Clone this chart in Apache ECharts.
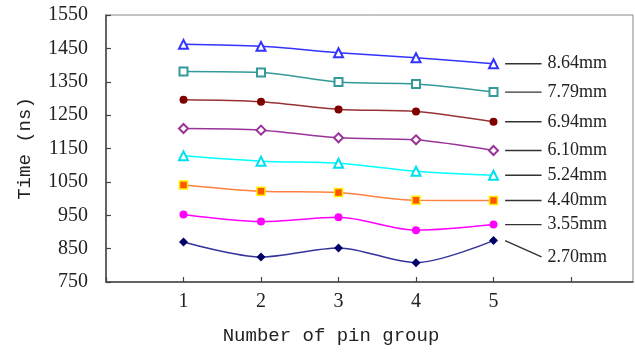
<!DOCTYPE html>
<html>
<head>
<meta charset="utf-8">
<script src="https://cdn.jsdelivr.net/npm/echarts@6/dist/echarts.min.js"></script>
<style>html,body{margin:0;padding:0;background:#fff;}#c{width:635px;height:352px;}</style>
</head>
<body>
<div id="c"></div>
<script>
const groups = [1, 2, 3, 4, 5];
const xTickLabels = ['1', '2', '3', '4', '5'];
const seriesNames = ['8.64mm', '7.79mm', '6.94mm', '6.10mm', '5.24mm', '4.40mm', '3.55mm', '2.70mm'];
const s864 = [1462, 1456, 1437, 1422, 1404];
const s779 = [1381, 1378, 1349, 1343, 1319];
const s694 = [1296, 1290, 1267, 1261, 1230];
const s610 = [1210, 1205, 1182, 1176, 1144];
const s524 = [1128, 1112, 1106, 1082, 1070];
const s440 = [1041, 1022, 1018, 995, 994];
const s355 = [952, 931, 944, 905, 922];
const s270 = [870, 825, 852, 808, 874];
// label anchor value for each series label (where leader line ends)
const labelValues = [1404, 1319, 1230, 1144, 1070, 994, 922, 825];

const allValues = [s864, s779, s694, s610, s524, s440, s355, s270];
const styles = [
  {line: '#3333ff', symbol: 'emptyTriangle', color: '#3333ff', border: null, size: 9},
  {line: '#339999', symbol: 'emptyRect', color: '#339999', border: null, size: 8},
  {line: '#993333', symbol: 'circle', color: '#800000', border: null, size: 8},
  {line: '#993399', symbol: 'emptyDiamond', color: '#993399', border: null, size: 9},
  {line: '#00ffff', symbol: 'emptyTriangle', color: '#00e0f0', border: null, size: 9},
  {line: '#ff8040', symbol: 'rect', color: '#ff5500', border: '#ffee00', size: 8},
  {line: '#ff00ff', symbol: 'circle', color: '#ff00ff', border: null, size: 8},
  {line: '#333399', symbol: 'diamond', color: '#000066', border: null, size: 9}
];

const series = [];
allValues.forEach((vals, i) => {
  const st = styles[i];
  series.push({
    name: seriesNames[i],
    type: 'line',
    smooth: 0.3,
    data: groups.map((g, j) => [g, vals[j]]),
    symbol: st.symbol,
    symbolSize: st.size,
    showAllSymbol: true,
    lineStyle: {color: st.line, width: 1.5},
    itemStyle: st.border ? {color: st.color, borderColor: st.border, borderWidth: 1.5} : {color: st.color, borderWidth: 1.3},
    z: 3
  });
  const last = vals[vals.length - 1];
  series.push({
    name: seriesNames[i] + '_leader',
    type: 'line',
    data: [[5.15, last], [5.62, labelValues[i]]],
    symbol: 'none',
    lineStyle: {color: '#333', width: 1.4},
    silent: true,
    label: {show: false},
    endLabel: {
      show: true,
      formatter: seriesNames[i],
      distance: 6,
      color: '#222',
      fontFamily: 'Liberation Serif',
      fontSize: 18
    },
    z: 2
  });
});

const chart = echarts.init(document.getElementById('c'), null, {renderer: 'canvas'});
chart.setOption({
  animation: false,
  backgroundColor: '#fff',
  grid: {left: 106, right: 2, top: 15, bottom: 70, show: true, borderColor: '#888', borderWidth: 1},
  xAxis: {
    type: 'value',
    min: 0, max: 6.8, interval: 1,
    name: 'Number of pin group',
    nameLocation: 'middle',
    nameGap: 44,
    nameTextStyle: {fontFamily: 'Liberation Mono', fontSize: 19, color: '#222', padding: [0, 77, 0, 0]},
    axisLine: {show: true, onZero: false, lineStyle: {color: '#444', width: 1.5}},
    axisTick: {show: true, inside: true, length: 5, lineStyle: {color: '#444', width: 1.2}},
    axisLabel: {
      margin: 10,
      fontFamily: 'Liberation Serif', fontSize: 20, color: '#222',
      showMaxLabel: false,
      formatter: function (v) { const k = groups.indexOf(v); return k >= 0 ? xTickLabels[k] : ''; }
    },
    splitLine: {show: false}
  },
  yAxis: {
    type: 'value',
    min: 750, max: 1550, interval: 100,
    name: 'Time (ns)',
    nameLocation: 'middle',
    nameGap: 72,
    nameRotate: 90,
    nameTextStyle: {fontFamily: 'Liberation Mono', fontSize: 19, color: '#222'},
    axisLine: {show: true, lineStyle: {color: '#444', width: 1.5}},
    axisTick: {show: true, inside: true, length: 5, lineStyle: {color: '#444', width: 1.2}},
    axisLabel: {margin: 18, fontFamily: 'Liberation Serif', fontSize: 20, color: '#222', formatter: function (v) { return String(v); }},
    splitLine: {show: false}
  },
  series: series
});
</script>
</body>
</html>
